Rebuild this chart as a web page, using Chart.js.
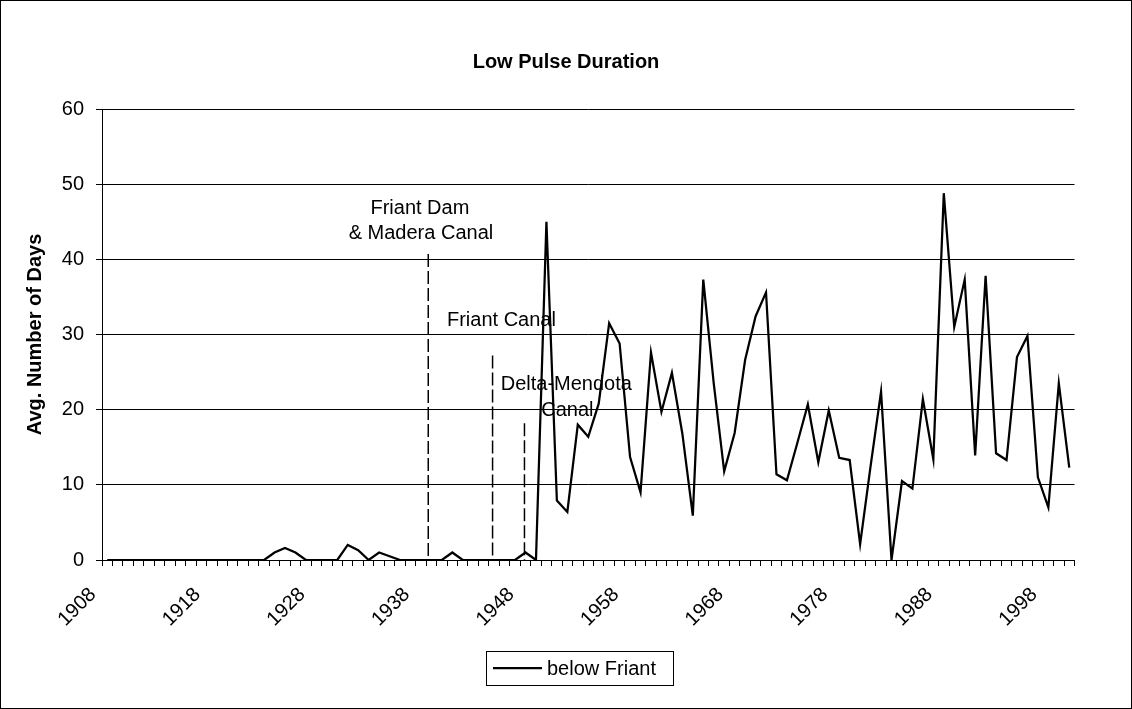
<!DOCTYPE html>
<html>
<head>
<meta charset="utf-8">
<title>Low Pulse Duration</title>
<script src="https://cdn.jsdelivr.net/npm/chart.js@4.4.1/dist/chart.umd.min.js"></script>
<style>
  html, body { margin: 0; padding: 0; background: #fff; }
  #wrap { width: 1132px; height: 709px; }
</style>
</head>
<body>
<div id="wrap"><canvas id="lowPulse" width="1132" height="709"></canvas></div>
<script>
// water years on the category axis
const firstYear = 1908;
const lastYear = 2000;
const years = [];
for (let yr = firstYear; yr <= lastYear; yr++) years.push(yr);

// avg. number of days in low pulses, San Joaquin below Friant (one row per decade)
const belowFriant = [
  0, 0, 0, 0, 0, 0, 0, 0, 0, 0,                          // 1908-1917
  0, 0, 0, 0, 0, 0, 1.0, 1.6, 1.0, 0,                    // 1918-1927
  0, 0, 0, 2.0, 1.3, 0, 1.0, 0.5, 0, 0,                  // 1928-1937
  0, 0, 0, 1.0, 0, 0, 0, 0, 0, 0,                        // 1938-1947
  1.0, 0, 45.0, 7.9, 6.4, 18.0, 16.4, 20.8, 31.5, 28.8,  // 1948-1957
  13.7, 9.0, 27.6, 19.7, 24.9, 16.8, 5.9, 37.3, 23.5, 11.8,
  16.9, 26.6, 32.4, 35.6, 11.4, 10.6, 15.6, 20.7, 13.0, 19.9,
  13.6, 13.3, 2.1, 12.5, 22.4, 0, 10.5, 9.5, 21.4, 13.4,
  48.8, 31.0, 37.3, 13.9, 37.8, 14.2, 13.3, 27.0, 29.8, 11.0,
  7.0, 23.5, 12.3                                        // 1998-2000
];

// labelled years on the x axis
const tickYears = [1908, 1918, 1928, 1938, 1948, 1958, 1968, 1978, 1988, 1998];

// project milestones: where the marker sits and how tall it is
const eventYears = [1938.7, 1944.85, 1947.9];
const eventHeights = [40.7, 27.2, 18.2];
const eventNames = ['Friant Dam & Madera Canal', 'Friant Canal', 'Delta-Mendota Canal'];

const fontFamily = '"Liberation Sans", Arial, Helvetica, sans-serif';

// text for the milestone markers, placed in axis units
const eventText = [
  { text: 'Friant Dam', x: 1937.9, y: 46.8 },
  { text: '& Madera Canal', x: 1938.0, y: 43.4 },
  { text: 'Friant Canal', x: 1945.7, y: 31.9 },
  { text: 'Delta-Mendota', x: 1951.9, y: 23.3 },
  { text: 'Canal', x: 1952.0, y: 19.9 }
];

const mainData = years.map((yr, i) => ({ x: yr, y: belowFriant[i] }));

const markerSets = eventYears.map((yr, i) => ({
  label: eventNames[i],
  data: [{ x: yr, y: eventHeights[i] }, { x: yr, y: 0 }],
  borderColor: '#000',
  borderWidth: 1.5,
  borderDash: [13, 4],
  pointRadius: 0,
  tension: 0
}));

const decorations = {
  id: 'decorations',
  beforeDatasetsDraw(chart) {
    const { ctx, scales: { x, y } } = chart;
    ctx.save();
    ctx.fillStyle = '#000';
    ctx.font = '20px ' + fontFamily;
    ctx.textAlign = 'center';
    ctx.textBaseline = 'middle';
    eventText.forEach(t => {
      ctx.fillText(t.text, x.getPixelForValue(t.x), y.getPixelForValue(t.y));
    });
    ctx.restore();
  },
  afterDraw(chart) {
    const ctx = chart.ctx;
    const ds = chart.data.datasets[0];
    ctx.save();
    // legend box
    ctx.strokeStyle = '#000';
    ctx.lineWidth = 1;
    ctx.strokeRect(486.5, 651.5, 187, 34);
    ctx.beginPath();
    ctx.lineWidth = ds.borderWidth;
    ctx.strokeStyle = ds.borderColor;
    ctx.moveTo(493, 668);
    ctx.lineTo(542, 668);
    ctx.stroke();
    ctx.fillStyle = '#000';
    ctx.font = '20px ' + fontFamily;
    ctx.textAlign = 'left';
    ctx.textBaseline = 'middle';
    ctx.fillText(ds.label, 547, 669);
    // outer frame
    ctx.lineWidth = 1;
    ctx.strokeStyle = '#000';
    ctx.strokeRect(0.5, 0.5, chart.width - 1, chart.height - 1);
    ctx.restore();
  }
};

new Chart(document.getElementById('lowPulse'), {
  type: 'line',
  data: {
    datasets: [{
      label: 'below Friant',
      data: mainData,
      borderColor: '#000',
      borderWidth: 2.25,
      pointRadius: 0,
      tension: 0
    }].concat(markerSets)
  },
  options: {
    responsive: false,
    animation: false,
    devicePixelRatio: 1,
    layout: { padding: 0 },
    plugins: {
      legend: { display: false },
      tooltip: { enabled: false },
      title: {
        display: true,
        text: 'Low Pulse Duration',
        color: '#000',
        font: { family: fontFamily, size: 20, weight: 'bold' },
        padding: { top: 50, bottom: 35 }
      }
    },
    scales: {
      x: {
        type: 'linear',
        min: firstYear - 0.5,
        max: lastYear + 0.5,
        afterFit: s => { s.height = 149; },
        border: { color: '#000', width: 1 },
        grid: { drawOnChartArea: false, drawTicks: true, tickLength: 6, color: '#000' },
        ticks: {
          stepSize: 1,
          autoSkip: false,
          minRotation: 45,
          maxRotation: 45,
          padding: 17,
          labelOffset: -9,
          color: '#000',
          font: { family: fontFamily, size: 20 },
          callback: v => {
            const yr = Math.round(v + 0.5);
            return tickYears.includes(yr) ? String(yr) : '';
          }
        }
      },
      y: {
        min: 0,
        max: 60,
        afterFit: s => { s.width = 102; },
        border: { color: '#000', width: 1 },
        grid: { color: '#000', lineWidth: 1, tickLength: 6 },
        ticks: {
          stepSize: 10,
          padding: 12,
          color: '#000',
          font: { family: fontFamily, size: 20 }
        },
        title: {
          display: true,
          text: 'Avg. Number of Days',
          color: '#000',
          font: { family: fontFamily, size: 20, weight: 'bold' },
          padding: { top: 23, bottom: 0 }
        }
      },
      // empty strip on the right so the title stays centred on the whole chart
      yRight: {
        position: 'right',
        min: 0,
        max: 60,
        afterFit: s => { s.width = 57.5; },
        border: { display: false },
        grid: { display: false },
        ticks: { display: false }
      }
    }
  },
  plugins: [decorations]
});
</script>
</body>
</html>
